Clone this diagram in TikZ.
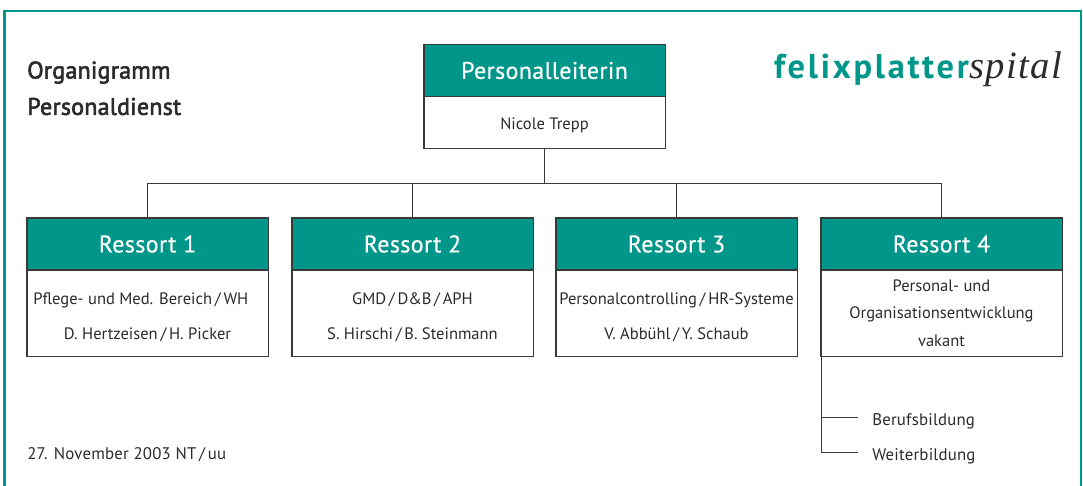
\documentclass[tikz,border=0pt]{standalone}
\usepackage{fontspec}
\setmainfont{PT Sans}
\newfontfamily\logoserif{Liberation Serif}
\usepackage{tikz}
\usetikzlibrary{calc,positioning}
\definecolor{fpteal}{HTML}{00968A}
\definecolor{fpline}{HTML}{3A3A3A}
\definecolor{fptext}{HTML}{2B2B2B}
\newcommand{\lowr}{\rule{0pt}{15pt}}
\tikzstyle{head}=[draw=fpline, fill=fpteal, text=white, line width=1pt, minimum width=181pt, minimum height=39pt, inner sep=0pt, font=\fontsize{18}{20}\selectfont\addfontfeatures{LetterSpace=1.5,FakeBold=0.4}]
\tikzstyle{body}=[draw=fpline, text=fptext, line width=1pt, minimum width=181pt, minimum height=65pt, inner sep=0pt, align=center, font=\fontsize{12.4}{26}\selectfont]
\tikzstyle{small}=[inner sep=0pt, anchor=west, text=fptext, font=\fontsize{12.6}{15}\selectfont\addfontfeatures{LetterSpace=1.2}]
\tikzstyle{title}=[inner sep=0pt, anchor=west, text=fptext, font=\fontsize{18}{20}\selectfont\addfontfeatures{LetterSpace=1,FakeBold=2.5}]

\begin{document}
\begin{tikzpicture}[x=0.75pt, y=-0.75pt, conn/.style={draw=fpline, line width=1pt}]
\useasboundingbox (0,0) rectangle (1083,486);
\path[draw=fpteal, line width=1.6pt] (4.5,486) -- (4.5,11) -- (1081,11) -- (1081,486);

\node[title] (T1) at (27,72.5) {Organigramm};
\node[title] (T2) at (27,106.5) {Personaldienst};
\node[small] (D) at (27,455) {27. November 2003 NT\,/\,uu};
\node[inner sep=0pt, anchor=base east] (L) at (1062,78) {\textcolor{fpteal}{\bfseries\fontsize{25.8}{30}\selectfont\addfontfeatures{LetterSpace=8}felixplatter}\textcolor{fptext}{\logoserif\itshape\fontsize{29}{32}\selectfont\addfontfeatures{LetterSpace=3.5}spital}};

% Leitung
\node[body, minimum height=39pt] (P0) at (544.5,122.5) {\rule{0pt}{13.5pt}Nicole Trepp};
\node[head] (H0) at (544.5,70.5) {Personalleiterin};

% Ressorts
\node[body] (P1) at (147.5,313) {\lowr Pflege- und Med. Bereich\,/\,WH\hspace*{10pt}\\D. Hertzeisen\,/\,H. Picker};
\node[body] (P2) at (412.5,313) {\lowr GMD\,/\,D\&B\,/\,APH\\S. Hirschi\,/\,B. Steinmann};
\node[body] (P3) at (676.5,313) {\lowr Personalcontrolling\,/\,HR-Systeme\\V. Abbühl\,/\,Y. Schaub};
\node[body, font=\fontsize{12.4}{20.5}\selectfont] (P4) at (941.5,313) {Personal- und\\Organisationsentwicklung\\vakant};
\foreach \i/\x in {1/147.5,2/412.5,3/676.5,4/941.5}
  \node[head] (H\i) at (\x,244) {Ressort \i};

\coordinate (B) at (544.5,183.5);
\draw[conn] (P0.south) -- (B);
\draw[conn] (H1.north) |- (B) -| (H4.north);
\draw[conn] (H2.north) -- (H2.north |- B);
\draw[conn] (H3.north) -- (H3.north |- B);

% Bildung
\node[small] (B1) at (872,421) {Berufsbildung};
\node[small] (B2) at (872,456) {Weiterbildung};
\coordinate (E1) at (858,417.5);
\coordinate (E2) at (858,452.5);
\coordinate (S) at (821.5,356);
\draw[conn] (S) |- (E2);
\draw[conn] (S |- E1) -- (E1);
\end{tikzpicture}
\end{document}
